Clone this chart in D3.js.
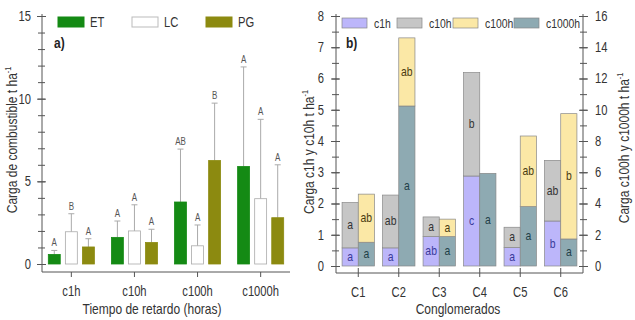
<!DOCTYPE html>
<html lang="es">
<head>
<meta charset="UTF-8">
<title>Carga de combustible</title>
<script src="https://d3js.org/d3.v7.min.js"></script>
<style>
  body { margin: 0; background: #fff; }
  svg { display: block; font-family: "Liberation Sans Narrow", "Arial Narrow", "Liberation Sans", sans-serif; }
  .axis path, .axis line { stroke: #555; }
  .axis text { fill: #333; font-size: 14px; }
</style>
</head>
<body>
<div id="chart"></div>
<script>
// ---- panel a) data ----
const classes = ["c1h", "c10h", "c100h", "c1000h"];
const sites = ["ET", "LC", "PG"];
const siteMean = {
  ET: [0.58, 1.61, 3.75, 5.9],
  LC: [1.95, 2.0, 1.1, 3.95],
  PG: [1.03, 1.3, 6.26, 2.8]
};
const siteErr = {
  ET: [0.82, 2.6, 6.95, 11.92],
  LC: [3.04, 3.58, 2.36, 8.75],
  PG: [1.53, 2.1, 9.73, 6.0]
};
const siteLetters = {
  ET: ["A", "A", "AB", "A"],
  LC: ["B", "A", "A", "A"],
  PG: ["A", "A", "B", "A"]
};

// ---- panel b) data ----
const clusters = ["C1", "C2", "C3", "C4", "C5", "C6"];
const c1h = [0.58, 0.58, 0.94, 2.88, 0.59, 1.44];
const c10h = [1.45, 1.69, 0.63, 3.31, 0.65, 1.94];
const c1000h = [1.52, 10.24, 1.88, 5.93, 3.8, 1.73];
const c100h = [3.08, 4.36, 1.12, 0, 4.52, 8.02];
const c1hLetters = ["a", "a", "ab", "c", "a", "b"];
const c10hLetters = ["a", "ab", "a", "b", "a", "ab"];
const c1000hLetters = ["a", "a", "a", "a", "a", "a"];
const c100hLetters = ["ab", "ab", "a", "", "ab", "b"];

const colSite = { ET: "#148a14", LC: "#ffffff", PG: "#8c8a10" };
const colClass = { c1h: "#bcb6fa", c10h: "#c6c6c6", c100h: "#fbe8a6", c1000h: "#8eaab2" };

const svg = d3.select("#chart").append("svg")
  .attr("width", 635).attr("height", 320);

// ================= panel a =================
const ya = d3.scaleLinear().domain([0, 15]).range([264, 16]);
const xa = d3.scaleBand().domain(classes).range([42, 290]).paddingInner(0.27).paddingOuter(0.1);
const xs = d3.scaleBand().domain(sites).range([0, xa.bandwidth()]).paddingInner(0.3);

const ga = svg.append("g");

// minor ticks
ga.append("g").attr("class", "axis")
  .attr("transform", "translate(42,0)")
  .call(d3.axisLeft(ya).tickValues(d3.range(0, 16, 1)).tickSizeOuter(0).tickFormat(""))
  .call(g => g.selectAll(".tick line").attr("x2", 3).attr("x1", -4))
  .call(g => g.select(".domain").remove());
ga.append("g").attr("class", "axis")
  .attr("transform", "translate(42,0)")
  .call(d3.axisLeft(ya).tickValues([0, 5, 10, 15]).tickSize(5).tickPadding(6))
  .call(g => g.selectAll(".tick line").attr("x1", -5).attr("x2", 4))
  .call(g => g.select(".domain").attr("d", "M0,14V272"));

ga.append("g").attr("class", "axis")
  .attr("transform", "translate(0,272)")
  .call(d3.axisBottom(xa).tickSize(5).tickPadding(9).tickSizeOuter(0))
  .call(g => g.selectAll("text").attr("font-size", 15))
  .call(g => g.select(".domain").attr("d", "M42,0H290"));

sites.forEach(s => {
  const g = ga.append("g").selectAll("g").data(classes).join("g")
    .attr("transform", d => `translate(${xa(d) + xs(s)},0)`);
  g.append("line")
    .attr("x1", xs.bandwidth() / 2).attr("x2", xs.bandwidth() / 2)
    .attr("y1", (d, i) => ya(siteMean[s][i]))
    .attr("y2", (d, i) => ya(siteErr[s][i]))
    .attr("stroke", "#aaa");
  g.append("line")
    .attr("x1", xs.bandwidth() / 2 - 3).attr("x2", xs.bandwidth() / 2 + 3)
    .attr("y1", (d, i) => ya(siteErr[s][i]))
    .attr("y2", (d, i) => ya(siteErr[s][i]))
    .attr("stroke", "#aaa");
  g.append("rect")
    .attr("x", 0).attr("width", xs.bandwidth())
    .attr("y", (d, i) => ya(siteMean[s][i]))
    .attr("height", (d, i) => ya(0) - ya(siteMean[s][i]))
    .attr("fill", colSite[s])
    .attr("stroke", s === "LC" ? "#aaa" : colSite[s])
    .attr("stroke-width", 0.8);
  g.append("text")
    .attr("x", xs.bandwidth() / 2)
    .attr("y", (d, i) => ya(siteErr[s][i]) - 4)
    .attr("text-anchor", "middle")
    .attr("font-size", 10).attr("fill", "#555")
    .text((d, i) => siteLetters[s][i]);
});

// legend a
const legA = ga.append("g");
sites.forEach((s, i) => {
  const x0 = 58 + i * 74;
  legA.append("rect").attr("x", x0).attr("y", 17).attr("width", 26).attr("height", 10)
    .attr("fill", colSite[s]).attr("stroke", s === "LC" ? "#bbb" : colSite[s]);
  legA.append("text").attr("x", x0 + 32).attr("y", 27).attr("font-size", 14).attr("fill", "#333").text(s);
});
ga.append("text").attr("x", 54).attr("y", 48).attr("font-size", 15).attr("font-weight", "bold")
  .attr("fill", "#222").text("a)");

ga.append("text").attr("x", 152).attr("y", 314).attr("text-anchor", "middle")
  .attr("font-size", 15).attr("fill", "#333").text("Tiempo de retardo (horas)");
ga.append("text").attr("transform", "translate(17,140) rotate(-90)").attr("text-anchor", "middle")
  .attr("font-size", 15).attr("fill", "#333")
  .html('Carga de combustible t ha<tspan dy="-6" font-size="9">-1</tspan>');

// ================= panel b =================
const yl = d3.scaleLinear().domain([0, 8]).range([266, 16]);
const yr = d3.scaleLinear().domain([0, 16]).range([266, 16]);
const xb = d3.scaleBand().domain(clusters).range([336, 583]).paddingInner(0.2).paddingOuter(0.15);
const half = xb.bandwidth() / 2;

const gb = svg.append("g");

gb.append("g").attr("class", "axis")
  .attr("transform", "translate(336,0)")
  .call(d3.axisLeft(yl).tickValues(d3.range(0, 8.01, 0.5)).tickFormat("").tickSizeOuter(0))
  .call(g => g.selectAll(".tick line").attr("x1", -4).attr("x2", 3))
  .call(g => g.select(".domain").remove());
gb.append("g").attr("class", "axis")
  .attr("transform", "translate(336,0)")
  .call(d3.axisLeft(yl).ticks(8).tickPadding(6))
  .call(g => g.selectAll(".tick line").attr("x1", -5).attr("x2", 4))
  .call(g => g.select(".domain").attr("d", "M0,14V273"));

gb.append("g").attr("class", "axis")
  .attr("transform", "translate(583,0)")
  .call(d3.axisRight(yr).tickValues(d3.range(0, 16.01, 1)).tickFormat("").tickSizeOuter(0))
  .call(g => g.selectAll(".tick line").attr("x1", -3).attr("x2", 4))
  .call(g => g.select(".domain").remove());
gb.append("g").attr("class", "axis")
  .attr("transform", "translate(583,0)")
  .call(d3.axisRight(yr).ticks(8).tickPadding(6))
  .call(g => g.selectAll(".tick line").attr("x1", -4).attr("x2", 5))
  .call(g => g.select(".domain").attr("d", "M0,14V273"));

gb.append("g").attr("class", "axis")
  .attr("transform", "translate(0,273)")
  .call(d3.axisBottom(xb).tickSize(5).tickPadding(9).tickSizeOuter(0))
  .call(g => g.selectAll("text").attr("font-size", 15))
  .call(g => g.selectAll(".tick line").attr("y1", -5).attr("y2", 4))
  .call(g => g.select(".domain").attr("d", "M336,0H583"));

const cg = gb.append("g").selectAll("g").data(clusters).join("g")
  .attr("transform", d => `translate(${xb(d)},0)`);

function segment(x, scale, lo, hi, fill, letter, col) {
  cg.append("rect")
    .attr("x", x).attr("width", half)
    .attr("y", (d, i) => scale(hi[i]))
    .attr("height", (d, i) => Math.max(0, scale(lo[i]) - scale(hi[i])))
    .attr("fill", fill).attr("stroke", "#888").attr("stroke-width", 0.7)
    .attr("display", (d, i) => hi[i] > lo[i] ? null : "none");
  cg.append("text")
    .attr("x", x + half / 2)
    .attr("y", (d, i) => (scale(lo[i]) + scale(hi[i])) / 2 + 4)
    .attr("text-anchor", "middle").attr("font-size", 13).attr("fill", col)
    .text((d, i) => letter[i]);
}
const zero = clusters.map(() => 0);
const leftTop = c1h.map((v, i) => v + c10h[i]);
const rightTop = c1000h.map((v, i) => v + c100h[i]);
segment(0, yl, zero, c1h, colClass.c1h, c1hLetters, "#3a3a9a");
segment(0, yl, c1h, leftTop, colClass.c10h, c10hLetters, "#333");
segment(half, yr, zero, c1000h, colClass.c1000h, c1000hLetters, "#1f3f48");
segment(half, yr, c1000h, rightTop, colClass.c100h, c100hLetters, "#4a3a10");

// legend b
const legItems = ["c1h", "c10h", "c100h", "c1000h"];
const legX = [342, 397, 453, 514];
legItems.forEach((k, i) => {
  gb.append("rect").attr("x", legX[i]).attr("y", 18).attr("width", 25).attr("height", 10)
    .attr("fill", colClass[k]).attr("stroke", "#888").attr("stroke-width", 0.7);
  gb.append("text").attr("x", legX[i] + 32).attr("y", 28).attr("font-size", 13)
    .attr("fill", "#333").text(k);
});
gb.append("text").attr("x", 346).attr("y", 48).attr("font-size", 15).attr("font-weight", "bold")
  .attr("fill", "#222").text("b)");

gb.append("text").attr("x", 458).attr("y", 314).attr("text-anchor", "middle")
  .attr("font-size", 15).attr("fill", "#333").text("Conglomerados");
gb.append("text").attr("transform", "translate(314,152) rotate(-90)").attr("text-anchor", "middle")
  .attr("font-size", 15).attr("fill", "#333")
  .html('Carga c1h y c10h t ha<tspan dy="-6" font-size="9">-1</tspan>');
gb.append("text").attr("transform", "translate(629,148) rotate(-90)").attr("text-anchor", "middle")
  .attr("font-size", 15).attr("fill", "#333")
  .html('Carga c100h y c1000h t ha<tspan dy="-6" font-size="9">-1</tspan>');

// the reference uses a condensed face; squeeze glyphs horizontally
svg.selectAll("text").each(function () {
  const w = this.getComputedTextLength();
  if (w > 0) {
    d3.select(this).attr("textLength", w * 0.8).attr("lengthAdjust", "spacingAndGlyphs");
  }
});
</script>
</body>
</html>
